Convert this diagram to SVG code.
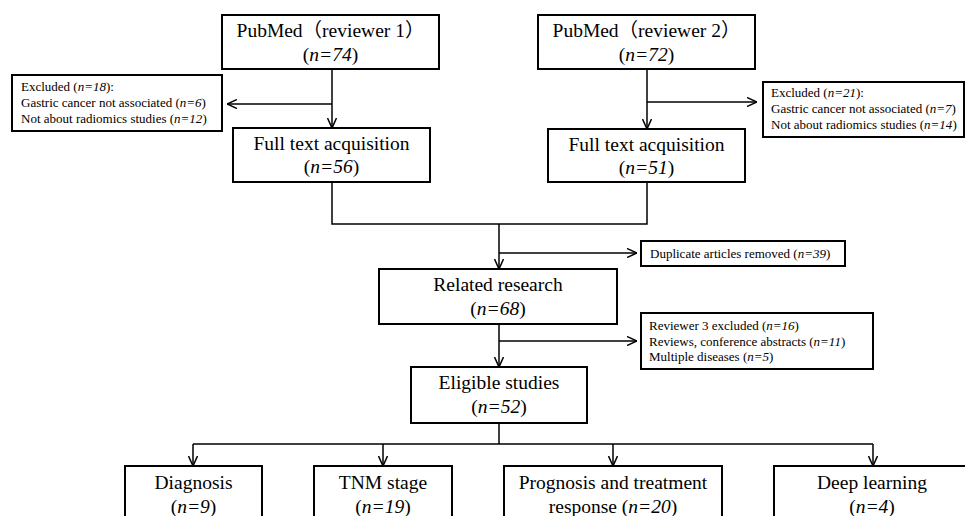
<svg xmlns="http://www.w3.org/2000/svg" width="965" height="516" viewBox="0 0 965 516">
<style>
.box{fill:#fff;stroke:#000;stroke-width:2}
.big{font-family:"Liberation Serif","Noto Sans CJK SC",serif;font-size:19.5px;fill:#000;text-anchor:middle}
.small{font-family:"Liberation Serif",serif;font-size:13px;fill:#000}
.it{font-style:italic}
.con{fill:none;stroke:#000;stroke-width:1.5}
</style>
<defs>
<marker id="arr" viewBox="0 0 10 10" refX="10" refY="5" markerWidth="10" markerHeight="10" markerUnits="userSpaceOnUse" orient="auto">
<path d="M0,0.5 L10,5 L0,9.5" fill="none" stroke="#000" stroke-width="1.5"/>
</marker>
</defs>
<rect width="965" height="516" fill="#fff"/>
<g id="connectors">
<path class="con" d="M332,69 V128" marker-end="url(#arr)"/>
<path class="con" d="M332,104 H227" marker-end="url(#arr)"/>
<path class="con" d="M647,69 V129" marker-end="url(#arr)"/>
<path class="con" d="M647,102 H757" marker-end="url(#arr)"/>
<path class="con" d="M332,182 V224 H647 V182"/>
<path class="con" d="M499,224 V269" marker-end="url(#arr)"/>
<path class="con" d="M499,253 H637" marker-end="url(#arr)"/>
<path class="con" d="M499,324 V367" marker-end="url(#arr)"/>
<path class="con" d="M499,341 H637" marker-end="url(#arr)"/>
<path class="con" d="M499,423 V444 M193,444 H873"/>
<path class="con" d="M193,444 V466" marker-end="url(#arr)"/>
<path class="con" d="M383,444 V466" marker-end="url(#arr)"/>
<path class="con" d="M613,444 V466" marker-end="url(#arr)"/>
<path class="con" d="M873,444 V466" marker-end="url(#arr)"/>
</g>
<g id="pubmed1">
<rect class="box" x="222" y="15" width="217" height="54"/>
<text class="big" x="330.5" y="37">PubMed（reviewer 1）</text>
<text class="big" x="330.5" y="61">(<tspan class="it">n=74</tspan>)</text>
</g>
<g id="pubmed2">
<rect class="box" x="538" y="15" width="217" height="54"/>
<text class="big" x="646.5" y="37">PubMed（reviewer 2）</text>
<text class="big" x="646.5" y="61">(<tspan class="it">n=72</tspan>)</text>
</g>
<g id="excluded1">
<rect class="box" x="12" y="75" width="210" height="56"/>
<text class="small" x="21" y="91">Excluded (<tspan class="it">n=18</tspan>):</text>
<text class="small" x="21" y="107">Gastric cancer not associated (<tspan class="it">n=6</tspan>)</text>
<text class="small" x="21" y="123">Not about radiomics studies (<tspan class="it">n=12</tspan>)</text>
</g>
<g id="excluded2">
<rect class="box" x="763" y="82" width="201" height="55"/>
<text class="small" x="771" y="97">Excluded (<tspan class="it">n=21</tspan>):</text>
<text class="small" x="771" y="113">Gastric cancer not associated (<tspan class="it">n=7</tspan>)</text>
<text class="small" x="771" y="129">Not about radiomics studies (<tspan class="it">n=14</tspan>)</text>
</g>
<g id="fulltext1">
<rect class="box" x="233" y="128" width="197" height="54"/>
<text class="big" x="331.5" y="150">Full text acquisition</text>
<text class="big" x="331.5" y="173">(<tspan class="it">n=56</tspan>)</text>
</g>
<g id="fulltext2">
<rect class="box" x="548" y="129" width="197" height="53"/>
<text class="big" x="646.5" y="151">Full text acquisition</text>
<text class="big" x="646.5" y="174">(<tspan class="it">n=51</tspan>)</text>
</g>
<g id="duplicate">
<rect class="box" x="641" y="241" width="204" height="25"/>
<text class="small" x="650" y="258">Duplicate articles removed (<tspan class="it">n=39</tspan>)</text>
</g>
<g id="related">
<rect class="box" x="379" y="269" width="238" height="55"/>
<text class="big" x="498" y="291">Related research</text>
<text class="big" x="498" y="315">(<tspan class="it">n=68</tspan>)</text>
</g>
<g id="reviewer3">
<rect class="box" x="641" y="313" width="232" height="56"/>
<text class="small" x="649" y="330">Reviewer 3 excluded (<tspan class="it">n=16</tspan>)</text>
<text class="small" x="649" y="346">Reviews, conference abstracts (<tspan class="it">n=11</tspan>)</text>
<text class="small" x="649" y="361">Multiple diseases (<tspan class="it">n=5</tspan>)</text>
</g>
<g id="eligible">
<rect class="box" x="411" y="367" width="176" height="56"/>
<text class="big" x="499" y="389">Eligible studies</text>
<text class="big" x="499" y="413">(<tspan class="it">n=52</tspan>)</text>
</g>
<g id="diagnosis">
<rect class="box" x="125" y="466" width="137" height="70"/>
<text class="big" x="193.5" y="489">Diagnosis</text>
<text class="big" x="193.5" y="513">(<tspan class="it">n=9</tspan>)</text>
</g>
<g id="tnm">
<rect class="box" x="314" y="466" width="138" height="70"/>
<text class="big" x="383" y="489">TNM stage</text>
<text class="big" x="383" y="513">(<tspan class="it">n=19</tspan>)</text>
</g>
<g id="prognosis">
<rect class="box" x="504" y="466" width="218" height="70"/>
<text class="big" x="613" y="489">Prognosis and treatment</text>
<text class="big" x="613" y="513">response (<tspan class="it">n=20</tspan>)</text>
</g>
<g id="deeplearning">
<rect class="box" x="774" y="466" width="196" height="70"/>
<text class="big" x="872" y="489">Deep learning</text>
<text class="big" x="872" y="513">(<tspan class="it">n=4</tspan>)</text>
</g>
</svg>
